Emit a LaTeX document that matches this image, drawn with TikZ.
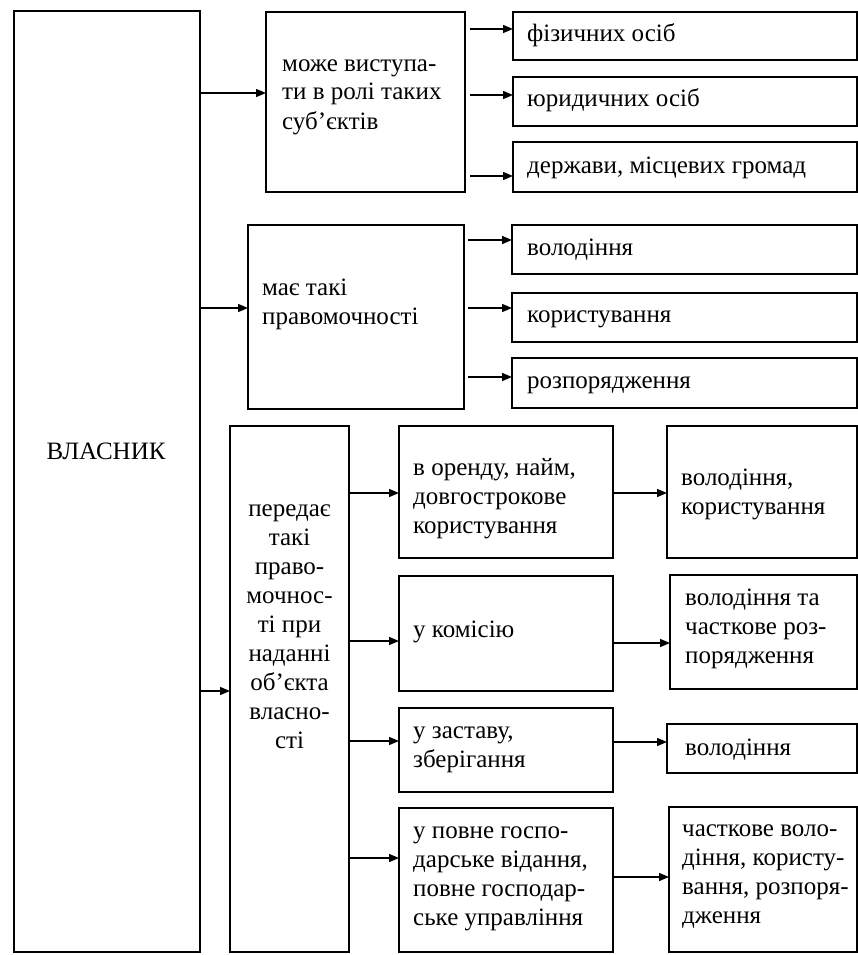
\documentclass[tikz,border=0pt]{standalone}
\usepackage{fontspec}
\setmainfont{Liberation Serif}
\usetikzlibrary{arrows.meta}
\begin{document}
\begin{tikzpicture}[x=1pt,y=-1pt,
  box/.style={draw,line width=1.4pt,rectangle,inner sep=0pt,outer sep=0pt,anchor=north west},
  txt/.style={anchor=base west,align=left,inner sep=0pt,font=\fontsize{25}{29}\selectfont},
  ctxt/.style={anchor=base,align=center,inner sep=0pt,font=\fontsize{25}{29}\selectfont},
  arr/.style={line width=1.4pt,-{Triangle[length=10pt,width=8pt]}}]
\useasboundingbox (0,0) rectangle (858,955);
% boxes
\node[box,minimum width=186pt,minimum height=941pt] (vl) at (14,11) {};
\node[box,minimum width=199pt,minimum height=180pt] (mv) at (266,12) {};
\node[box,minimum width=344pt,minimum height=48pt] (fiz) at (513,12) {};
\node[box,minimum width=344pt,minimum height=49pt] (yur) at (513,77) {};
\node[box,minimum width=344pt,minimum height=50pt] (der) at (513,142) {};
\node[box,minimum width=216pt,minimum height=184pt] (mt) at (248,225) {};
\node[box,minimum width=345pt,minimum height=49pt] (vol) at (512,225) {};
\node[box,minimum width=345pt,minimum height=49pt] (kor) at (512,293) {};
\node[box,minimum width=345pt,minimum height=50pt] (roz) at (512,358) {};
\node[box,minimum width=119pt,minimum height=526pt] (per) at (230,426) {};
\node[box,minimum width=214pt,minimum height=132pt] (ma) at (399,426) {};
\node[box,minimum width=214pt,minimum height=115pt] (mb) at (399,576) {};
\node[box,minimum width=214pt,minimum height=84pt] (mc) at (399,708) {};
\node[box,minimum width=214pt,minimum height=144pt] (md) at (399,808) {};
\node[box,minimum width=190pt,minimum height=132pt] (ra) at (667,426) {};
\node[box,minimum width=187pt,minimum height=114pt] (rb) at (670,575) {};
\node[box,minimum width=190pt,minimum height=49pt] (rc) at (667,724) {};
\node[box,minimum width=188pt,minimum height=145pt] (rd) at (669,807) {};
% texts (anchor = baseline of the last line)
\node[ctxt] (tvl) at (106,459) {ВЛАСНИК};
\node[txt] (tmv) at (282,129) {може виступа-\\ти в ролі таких\\суб’єктів};
\node[txt] (tfiz) at (527,42) {фізичних осіб};
\node[txt] (tyur) at (527,107) {юридичних осіб};
\node[txt] (tder) at (527,173) {держави, місцевих громад};
\node[txt] (tmt) at (262,324) {має такі\\правомочності};
\node[txt] (tvol) at (527,255) {володіння};
\node[txt] (tkor) at (527,322) {користування};
\node[txt] (troz) at (527,388) {розпорядження};
\node[ctxt] (tper) at (289.5,748) {передає\\такі\\право-\\мочнос-\\ті при\\наданні\\об’єкта\\власно-\\сті};
\node[txt] (tma) at (413,533) {в оренду, найм,\\довгострокове\\користування};
\node[txt] (tmb) at (413,637) {у комісію};
\node[txt] (tmc) at (413,767) {у заставу,\\зберігання};
\node[txt] (tmd) at (413,925) {у повне госпо-\\дарське відання,\\повне господар-\\ське управління};
\node[txt] (tra) at (681,514) {володіння,\\користування};
\node[txt] (trb) at (685,663) {володіння та\\часткове роз-\\порядження};
\node[txt] (trc) at (685,755) {володіння};
\node[txt] (trd) at (682,923) {часткове воло-\\діння, користу-\\вання, розпоря-\\дження};
% arrows
\draw[arr] (vl.east |- 0,93) -- (mv.west |- 0,93);
\draw[arr] (vl.east |- 0,308) -- (mt.west |- 0,308);
\draw[arr] (vl.east |- 0,691) -- (per.west |- 0,691);
\draw[arr,shorten <=5pt] (mv.east |- 0,29) -- (fiz.west |- 0,29);
\draw[arr,shorten <=5pt] (mv.east |- 0,95) -- (yur.west |- 0,95);
\draw[arr,shorten <=5pt] (mv.east |- 0,176) -- (der.west |- 0,176);
\draw[arr,shorten <=4pt] (mt.east |- 0,240) -- (vol.west |- 0,240);
\draw[arr,shorten <=4pt] (mt.east |- 0,308) -- (kor.west |- 0,308);
\draw[arr,shorten <=4pt] (mt.east |- 0,377) -- (roz.west |- 0,377);
\draw[arr] (per.east |- 0,493) -- (ma.west |- 0,493);
\draw[arr] (per.east |- 0,641) -- (mb.west |- 0,641);
\draw[arr] (per.east |- 0,741) -- (mc.west |- 0,741);
\draw[arr] (per.east |- 0,858) -- (md.west |- 0,858);
\draw[arr] (ma.east |- 0,493) -- (ra.west |- 0,493);
\draw[arr] (mb.east |- 0,643) -- (rb.west |- 0,643);
\draw[arr] (mc.east |- 0,742) -- (rc.west |- 0,742);
\draw[arr] (md.east |- 0,877) -- (rd.west |- 0,877);
\end{tikzpicture}
\end{document}
